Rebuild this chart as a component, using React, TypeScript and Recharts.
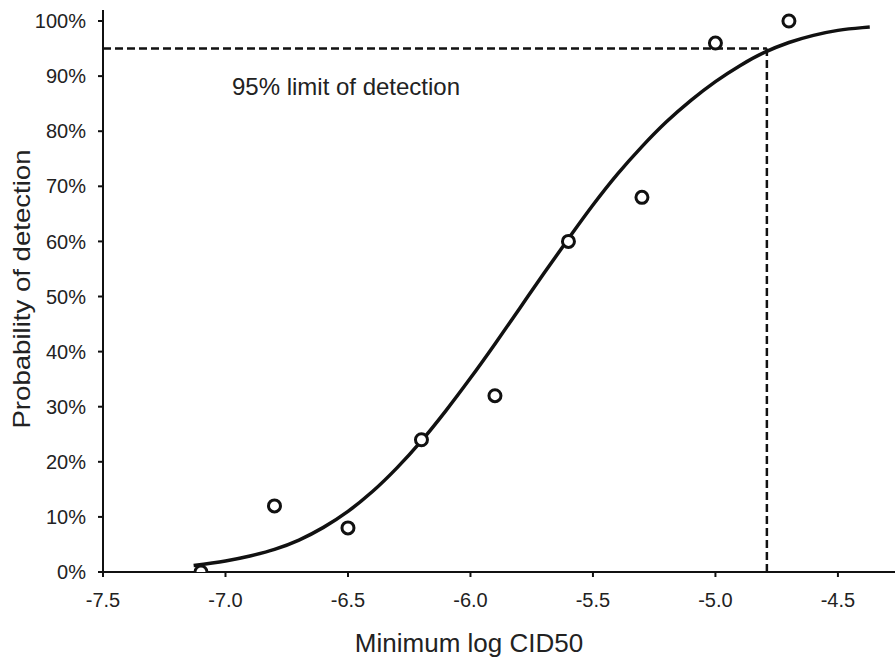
import React from 'react';
import {
  ComposedChart,
  Line,
  Scatter,
  XAxis,
  YAxis,
  ReferenceLine,
  Label,
} from 'recharts';

// observed detection rates
const doseLevels = [-7.1, -6.8, -6.5, -6.2, -5.9, -5.6, -5.3, -5.0, -4.7];
const detectedShare = [0, 0.12, 0.08, 0.24, 0.32, 0.6, 0.68, 0.96, 1.0];

// fitted curve
const curveX = [
  -7.13, -7.0, -6.9, -6.8, -6.7, -6.6, -6.5, -6.4, -6.3, -6.2, -6.1, -6.0,
  -5.9, -5.8, -5.7, -5.6, -5.5, -5.4, -5.3, -5.2, -5.1, -5.0, -4.9, -4.8,
  -4.7, -4.6, -4.5, -4.4, -4.37,
];
const curveY = [
  0.012, 0.02, 0.029, 0.041, 0.058, 0.081, 0.11, 0.146, 0.189, 0.238, 0.293,
  0.352, 0.414, 0.478, 0.542, 0.605, 0.666, 0.722, 0.772, 0.817, 0.856,
  0.89, 0.919, 0.943, 0.961, 0.974, 0.983, 0.988, 0.989,
];

const xTicks = [-7.5, -7.0, -6.5, -6.0, -5.5, -5.0, -4.5];
const yTicks = [0, 0.1, 0.2, 0.3, 0.4, 0.5, 0.6, 0.7, 0.8, 0.9, 1.0];

const lodX = -4.79;
const lodY = 0.95;

const points = doseLevels.map((x, i) => ({ x, y: detectedShare[i] }));
const curve = curveX.map((x, i) => ({ x, y: curveY[i] }));

const font = '"Liberation Sans", Arial, sans-serif';
const ink = '#111';
const textInk = '#222';

const Circle = (props: any) => {
  const { cx, cy } = props;
  return (
    <circle cx={cx} cy={cy} r={6} fill="#fff" stroke={ink} strokeWidth={3} />
  );
};

export default function App() {
  return (
    <div style={{ position: 'absolute', left: 0, top: 0, fontFamily: font }}>
      <ComposedChart
        width={895}
        height={662}
        margin={{ top: 10, right: 0, bottom: 0, left: 0 }}
      >
        <XAxis
          type="number"
          dataKey="x"
          domain={[-7.5, -4.267]}
          ticks={xTicks}
          allowDataOverflow
          tickFormatter={(v: number) => v.toFixed(1)}
          height={90}
          tickSize={5}
          tickMargin={16}
          axisLine={{ stroke: ink, strokeWidth: 2 }}
          tickLine={{ stroke: ink, strokeWidth: 2 }}
          tick={{ fill: textInk, fontSize: 20, fontFamily: font }}
        >
          <Label
            content={() => (
              <text
                x={469}
                y={652}
                textAnchor="middle"
                fill={textInk}
                fontSize={26}
                fontFamily={font}
              >
                Minimum log CID50
              </text>
            )}
          />
        </XAxis>
        <YAxis
          type="number"
          dataKey="y"
          domain={[0, 1.02]}
          ticks={yTicks}
          allowDataOverflow
          tickFormatter={(v: number) => `${Math.round(v * 100)}%`}
          width={103}
          tickSize={5}
          tickMargin={12}
          axisLine={{ stroke: ink, strokeWidth: 2 }}
          tickLine={{ stroke: ink, strokeWidth: 2 }}
          tick={{ fill: textInk, fontSize: 20, fontFamily: font }}
        >
          <Label
            content={() => (
              <text
                transform="translate(22 289) rotate(-90) scale(1.2 1)"
                textAnchor="middle"
                dominantBaseline="central"
                fill={textInk}
                fontSize={23}
                fontFamily={font}
              >
                Probability of detection
              </text>
            )}
          />
        </YAxis>
        <ReferenceLine
          segment={[
            { x: -7.5, y: lodY },
            { x: lodX, y: lodY },
          ]}
          stroke={ink}
          strokeWidth={2.5}
          strokeDasharray="8 4"
          label={{
            content: () => (
              <text
                x={346}
                y={95}
                textAnchor="middle"
                fill={textInk}
                fontSize={24}
                fontFamily={font}
              >
                95% limit of detection
              </text>
            ),
          }}
        />
        <ReferenceLine
          segment={[
            { x: lodX, y: 0 },
            { x: lodX, y: lodY },
          ]}
          stroke={ink}
          strokeWidth={2.5}
          strokeDasharray="8 4"
        />
        <Line
          data={curve}
          dataKey="y"
          type="monotone"
          stroke={ink}
          strokeWidth={3.5}
          dot={false}
          activeDot={false}
          isAnimationActive={false}
        />
        <Scatter
          data={points}
          dataKey="y"
          shape={<Circle />}
          isAnimationActive={false}
        />
      </ComposedChart>
    </div>
  );
}
